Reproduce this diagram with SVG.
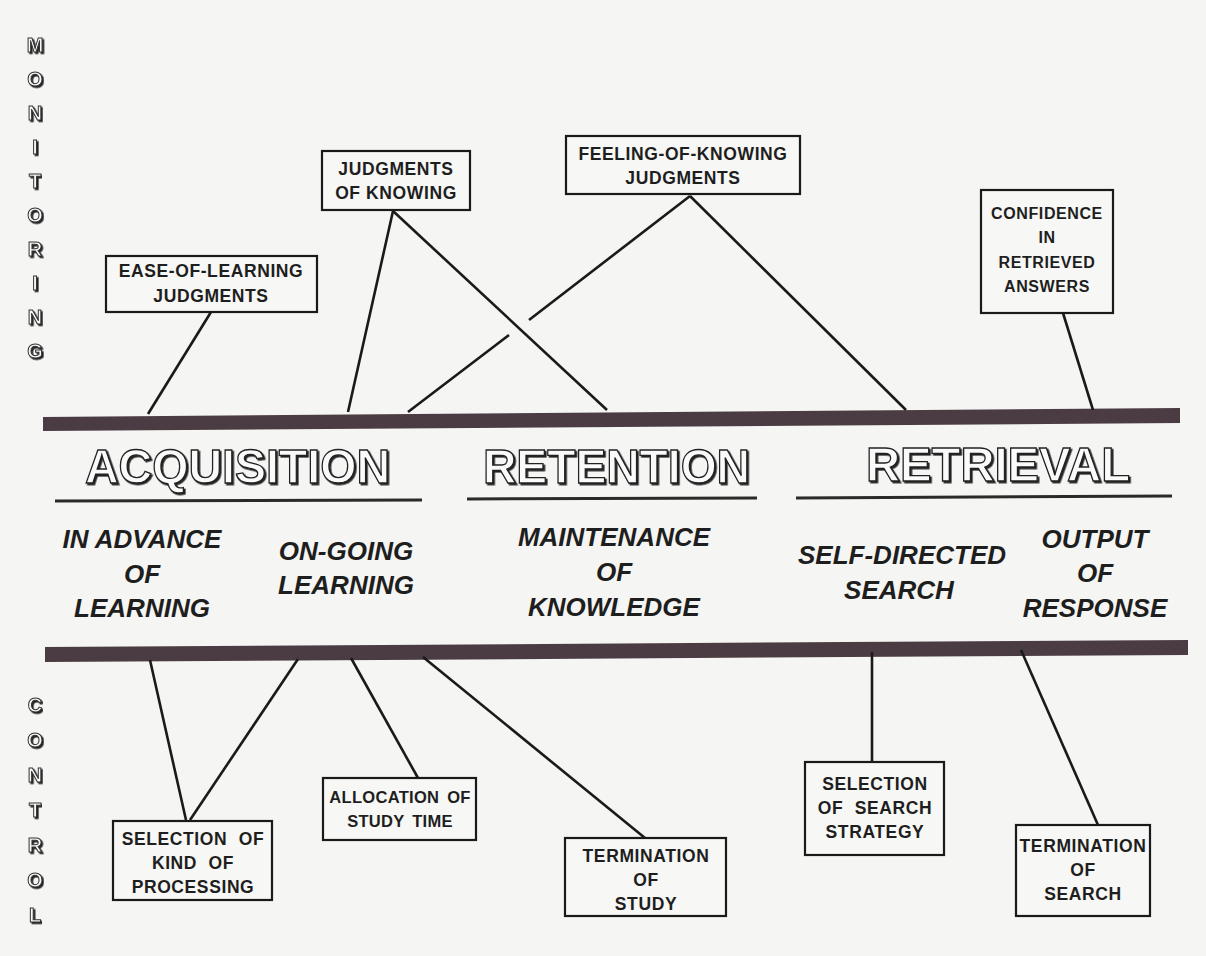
<svg xmlns="http://www.w3.org/2000/svg" width="1206" height="956" viewBox="0 0 1206 956">
<defs>
<filter id="sh" x="-5%" y="-10%" width="110%" height="130%">
<feDropShadow dx="1.6" dy="1.6" stdDeviation="0" flood-color="#222"/>
</filter>
<style>
.bg{fill:#f5f5f3}
.bar{fill:#4a3c42}
.ul{stroke:#2a2a2a;stroke-width:3;fill:none}
.ln{stroke:#1a1a1a;stroke-width:2.6;fill:none;stroke-linecap:butt}
.box{fill:#f7f7f5;stroke:#1a1a1a;stroke-width:2.2}
.bt{font-family:"Liberation Sans",Arial,sans-serif;font-weight:bold;font-size:17.5px;letter-spacing:0.6px;fill:#1e1e1e;text-anchor:middle}
.bs{font-size:16px}
.bt2{word-spacing:6px}
.bt3{font-size:16.5px;letter-spacing:0.3px;word-spacing:3px}
.it{font-family:"Liberation Sans",Arial,sans-serif;font-weight:bold;font-style:italic;font-size:26px;fill:#1e1e1e;text-anchor:middle}
.title{font-family:"Liberation Sans",Arial,sans-serif;font-weight:bold;font-size:48px;fill:#fafafa;stroke:#222;stroke-width:1.3;filter:url(#sh)}
.side{font-family:"Liberation Sans",Arial,sans-serif;font-weight:bold;font-size:20px;fill:#fafafa;stroke:#333;stroke-width:1;text-anchor:middle;filter:url(#sh)}
</style>
</defs>
<rect class="bg" x="0" y="0" width="1206" height="956"/>

<g id="side-labels">
<text class="side" x="35" y="52">M</text>
<text class="side" x="35" y="86">O</text>
<text class="side" x="35" y="120">N</text>
<text class="side" x="35" y="154">I</text>
<text class="side" x="35" y="188">T</text>
<text class="side" x="35" y="222">O</text>
<text class="side" x="35" y="256">R</text>
<text class="side" x="35" y="290">I</text>
<text class="side" x="35" y="324">N</text>
<text class="side" x="35" y="358">G</text>
<text class="side" x="35" y="712">C</text>
<text class="side" x="35" y="747">O</text>
<text class="side" x="35" y="782">N</text>
<text class="side" x="35" y="817">T</text>
<text class="side" x="35" y="852">R</text>
<text class="side" x="35" y="887">O</text>
<text class="side" x="35" y="922">L</text>
</g>

<g id="bars">
<polygon class="bar" points="43,417 1180,408 1180,423 43,431"/>
<polygon class="bar" points="45,647 1188,640 1188,655 45,662"/>
</g>

<g id="titles">
<text class="title" x="85" y="483" textLength="305" lengthAdjust="spacingAndGlyphs">ACQUISITION</text>
<text class="title" x="483" y="483" textLength="267" lengthAdjust="spacingAndGlyphs">RETENTION</text>
<text class="title" x="866" y="481" textLength="264" lengthAdjust="spacingAndGlyphs">RETRIEVAL</text>
<line class="ul" x1="55" y1="501" x2="422" y2="500"/>
<line class="ul" x1="467" y1="499" x2="757" y2="498"/>
<line class="ul" x1="796" y1="498" x2="1172" y2="496"/>
</g>

<g id="stages">
<text class="it" x="142" y="548">IN ADVANCE</text>
<text class="it" x="142" y="583">OF</text>
<text class="it" x="142" y="617">LEARNING</text>
<text class="it" x="346" y="560">ON-GOING</text>
<text class="it" x="346" y="594">LEARNING</text>
<text class="it" x="614" y="546">MAINTENANCE</text>
<text class="it" x="614" y="581">OF</text>
<text class="it" x="614" y="616">KNOWLEDGE</text>
<text class="it" x="902" y="564">SELF-DIRECTED</text>
<text class="it" x="899" y="599">SEARCH</text>
<text class="it" x="1095" y="548">OUTPUT</text>
<text class="it" x="1095" y="582">OF</text>
<text class="it" x="1095" y="617">RESPONSE</text>
</g>

<g id="connectors">
<line class="ln" x1="211" y1="312" x2="148" y2="414"/>
<line class="ln" x1="393" y1="211" x2="348" y2="412"/>
<line class="ln" x1="393" y1="211" x2="607" y2="410"/>
<line class="ln" x1="690" y1="196" x2="529" y2="320"/>
<line class="ln" x1="509" y1="335" x2="408" y2="412"/>
<line class="ln" x1="690" y1="196" x2="906" y2="410"/>
<line class="ln" x1="1063" y1="313" x2="1093" y2="410"/>
<line class="ln" x1="150" y1="660" x2="186" y2="820"/>
<line class="ln" x1="298" y1="659" x2="190" y2="820"/>
<line class="ln" x1="351" y1="658" x2="418" y2="778"/>
<line class="ln" x1="423" y1="657" x2="645" y2="838"/>
<line class="ln" x1="872" y1="652" x2="872" y2="762"/>
<line class="ln" x1="1021" y1="650" x2="1098" y2="825"/>
</g>

<g id="ease-of-learning">
<rect class="box" x="106" y="256" width="211" height="56"/>
<text class="bt" x="211" y="277">EASE-OF-LEARNING</text>
<text class="bt" x="211" y="302">JUDGMENTS</text>
</g>
<g id="judgments-of-knowing">
<rect class="box" x="322" y="151" width="148" height="59"/>
<text class="bt" x="396" y="175">JUDGMENTS</text>
<text class="bt" x="396" y="199">OF KNOWING</text>
</g>
<g id="feeling-of-knowing">
<rect class="box" x="566" y="136" width="234" height="58"/>
<text class="bt" x="683" y="160">FEELING-OF-KNOWING</text>
<text class="bt" x="683" y="184">JUDGMENTS</text>
</g>
<g id="confidence">
<rect class="box" x="981" y="190" width="132" height="123"/>
<text class="bt bs" x="1047" y="219">CONFIDENCE</text>
<text class="bt bs" x="1047" y="243">IN</text>
<text class="bt bs" x="1047" y="268">RETRIEVED</text>
<text class="bt bs" x="1047" y="292">ANSWERS</text>
</g>

<g id="selection-kind">
<rect class="box" x="113" y="821" width="159" height="79"/>
<text class="bt bt2" x="193" y="845">SELECTION OF</text>
<text class="bt bt2" x="193" y="869">KIND OF</text>
<text class="bt bt2" x="193" y="893">PROCESSING</text>
</g>
<g id="allocation">
<rect class="box" x="323" y="778" width="153" height="62"/>
<text class="bt bt3" x="400" y="803">ALLOCATION OF</text>
<text class="bt bt3" x="400" y="827">STUDY TIME</text>
</g>
<g id="termination-study">
<rect class="box" x="565" y="838" width="161" height="78"/>
<text class="bt" x="646" y="862">TERMINATION</text>
<text class="bt" x="646" y="886">OF</text>
<text class="bt" x="646" y="910">STUDY</text>
</g>
<g id="selection-search">
<rect class="box" x="805" y="762" width="139" height="93"/>
<text class="bt bt2" x="875" y="790">SELECTION</text>
<text class="bt bt2" x="875" y="814">OF SEARCH</text>
<text class="bt bt2" x="875" y="838">STRATEGY</text>
</g>
<g id="termination-search">
<rect class="box" x="1016" y="825" width="134" height="91"/>
<text class="bt" x="1083" y="852">TERMINATION</text>
<text class="bt" x="1083" y="876">OF</text>
<text class="bt" x="1083" y="900">SEARCH</text>
</g>
</svg>
